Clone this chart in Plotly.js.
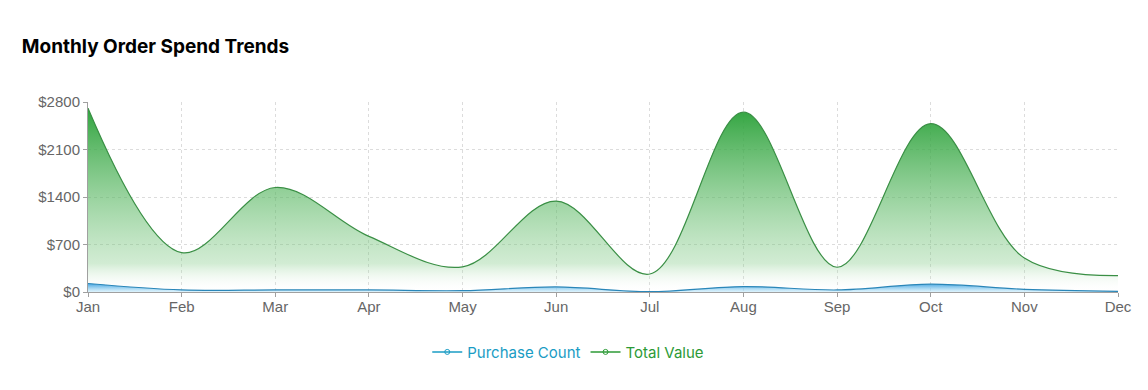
<!DOCTYPE html>
<html>
<head>
<meta charset="utf-8">
<script src="https://cdn.plot.ly/plotly-3.0.1.min.js"></script>
<style>
html,body{margin:0;padding:0;background:#fff;}
#chart{width:1148px;height:390px;}
</style>
</head>
<body>
<div id="chart"></div>
<script>
const months = ["Jan","Feb","Mar","Apr","May","Jun","Jul","Aug","Sep","Oct","Nov","Dec"];
const totalValue = [2710, 580, 1540, 820, 370, 1340, 265, 2650, 365, 2480, 500, 240];
const purchaseCount = [125, 30, 30, 30, 20, 75, 5, 80, 30, 115, 40, 10];
const yTicks = [0, 700, 1400, 2100, 2800];
const yTickText = yTicks.map(v => "$" + v);

const traces = [
  {
    x: months, y: totalValue, name: "Total Value", type: "scatter", mode: "lines",
    line: {color: "#3a8f45", width: 1.2, shape: "spline", smoothing: 1},
    fill: "tozeroy",
    fillgradient: {type: "vertical", start: 0, stop: 2800,
      colorscale: [[0, "rgba(255,255,255,0)"], [0.15, "rgba(125,200,130,0.35)"], [1, "rgba(40,160,55,1)"]]},
    showlegend: false, hoverinfo: "skip"
  },
  {
    x: months, y: purchaseCount, name: "Purchase Count", type: "scatter", mode: "lines",
    line: {color: "#2a86b8", width: 1.2, shape: "spline", smoothing: 1},
    fill: "tozeroy",
    fillgradient: {type: "vertical", start: 0, stop: 130,
      colorscale: [[0, "rgba(200,235,250,0.6)"], [1, "rgba(40,150,220,0.9)"]]},
    showlegend: false, hoverinfo: "skip"
  },
  {
    x: [null], y: [null], name: "Purchase Count", type: "scatter", mode: "lines+markers",
    line: {color: "#1a9cc4", width: 1.5}, marker: {symbol: "circle-open", size: 5, color: "#1a9cc4"},
    showlegend: true
  },
  {
    x: [null], y: [null], name: "Total Value", type: "scatter", mode: "lines+markers",
    line: {color: "#2c9a36", width: 1.5}, marker: {symbol: "circle-open", size: 5, color: "#2c9a36"},
    showlegend: true
  }
];

const tickFont = {family: "'Liberation Sans', Arimo, Helvetica, Arial, sans-serif", size: 15, color: "#666"};

const layout = {
  width: 1148, height: 390,
  paper_bgcolor: "#fff", plot_bgcolor: "#fff",
  margin: {l: 88, r: 30, t: 102, b: 98},
  title: {
    text: "<b>Monthly Order Spend Trends</b>",
    font: {family: "Inter, Roboto, sans-serif", size: 19, color: "#000"},
    xref: "container", x: 0.019, xanchor: "left",
    yref: "container", y: 0.882, yanchor: "middle"
  },
  xaxis: {
    type: "category", range: [0, 11],
    showgrid: true, gridcolor: "#dcdcdc", griddash: "3px,3px", gridwidth: 1,
    showline: true, linecolor: "#a0a0a0", linewidth: 1,
    ticks: "outside", ticklen: 4, tickcolor: "#a0a0a0",
    ticklabelstandoff: -3,
    tickfont: tickFont,
    zeroline: false, fixedrange: true
  },
  yaxis: {
    range: [0, 2800], tickvals: yTicks, ticktext: yTickText,
    showgrid: true, gridcolor: "#dcdcdc", griddash: "3px,3px", gridwidth: 1,
    showline: true, linecolor: "#a0a0a0", linewidth: 1,
    ticks: "outside", ticklen: 4, tickcolor: "#a0a0a0",
    ticklabelstandoff: 0,
    tickfont: tickFont,
    zeroline: false, fixedrange: true
  },
  showlegend: true,
  legend: {
    orientation: "h", xref: "container", x: 0.495, xanchor: "center",
    yref: "container", y: 0.097, yanchor: "middle",
    font: {family: "Inter, Roboto, sans-serif", size: 15, color: "#333"},
    itemwidth: 30, tracegroupgap: 0
  }
};

Plotly.newPlot("chart", traces, layout, {displayModeBar: false, staticPlot: true}).then(() => {
  const items = document.querySelectorAll(".legend .traces");
  const cols = ["#1a9cc4", "#2c9a36"];
  items.forEach((el, i) => {
    const t = el.querySelector(".legendtext");
    if (t) t.style.fill = cols[i % 2];
  });
});
</script>
</body>
</html>
